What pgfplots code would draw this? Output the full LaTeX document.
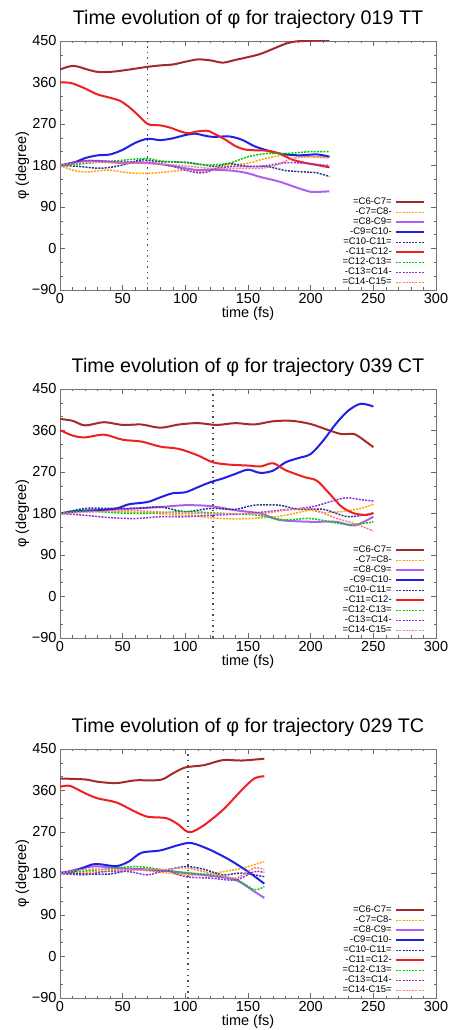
\documentclass[border=0pt]{standalone}
\usepackage{fontspec}
\setmainfont{Liberation Sans}
\usepackage{pgfplots}
\pgfplotsset{compat=1.18}
\definecolor{cBrown}{HTML}{A52A2A}
\definecolor{cOrange}{HTML}{FFA500}
\definecolor{cViolet}{HTML}{B060F0}
\definecolor{cBlue}{HTML}{2020E8}
\definecolor{cNavy}{HTML}{303090}
\definecolor{cRed}{HTML}{EE2020}
\definecolor{cGreen}{HTML}{00D000}
\definecolor{cPurple}{HTML}{9030E0}
\definecolor{cPink}{HTML}{F08080}
\pgfplotsset{
  panel/.style={
    scale only axis, width=376pt, height=249pt,
    xmin=0, xmax=300, ymin=-90, ymax=450,
    xtick={0,50,...,300}, ytick={-90,0,90,180,270,360,450},
    yticklabels={−90,0,90,180,270,360,450},
    minor x tick num=4, minor y tick num=2,
    tick align=inside, major tick length=5pt, minor tick length=2.5pt,
    tick style={black!60, line width=0.6pt},
    axis line style={black!55, line width=0.8pt},
    /pgf/number format/assume math mode=true,
    tick label style={font=\fontsize{14.5}{16}\selectfont},
    xlabel={time (fs)}, ylabel={φ (degree)},
    every axis x label/.style={at={(axis description cs:0.5,-0.097)}, anchor=center, font=\fontsize{14.5}{16}\selectfont},
    every axis y label/.style={at={(axis description cs:-0.1,0.5)}, rotate=90, anchor=center, font=\fontsize{14.5}{16}\selectfont},
    title style={font=\fontsize{19.7}{21}\selectfont, at={(axis description cs:0.5,1)}, anchor=center, yshift=16pt},
    legend style={draw=none, fill=none, at={(rel axis cs:0.972,0.01)}, anchor=south east,
      font=\fontsize{9.5}{10}\selectfont, inner sep=0pt, row sep=0pt, column sep=3pt,
      nodes={inner sep=0.6pt, text height=6.6pt, text depth=2.2pt}},
    legend plot pos=right, legend cell align=right,
    legend image code/.code={\draw[#1] (0pt,0pt) -- (28pt,0pt);},
  },
  sA/.style={cBrown, line width=2pt, smooth},
  sB/.style={cOrange, line width=1.5pt, dash pattern=on 2pt off 1.2pt, smooth},
  sC/.style={cViolet, line width=2pt, smooth},
  sD/.style={cBlue, line width=2pt, smooth},
  sE/.style={cNavy, line width=1.5pt, dash pattern=on 2pt off 1.2pt, smooth},
  sF/.style={cRed, line width=2pt, smooth},
  sG/.style={cGreen, line width=1.5pt, dash pattern=on 2pt off 1.2pt, smooth},
  sH/.style={cPurple, line width=1.5pt, dash pattern=on 2pt off 1.2pt, smooth},
  sI/.style={cPink, line width=1.5pt, dash pattern=on 2pt off 1.2pt, smooth},
  vline/.style={black!70, line width=1.5pt, dash pattern=on 1.5pt off 4pt, forget plot},
}
\begin{document}
\begin{tikzpicture}
\path[use as bounding box] (0,0) rectangle (452pt,1030pt);
% ---------------- Panel 1 ----------------
\begin{axis}[panel, at={(60pt,740pt)}, anchor=south west,
  title={Time evolution of φ for trajectory 019 TT}]
\addplot[vline] coordinates {(70,-90) (70,450)};
\addplot[sA] coordinates {(0,388) (5,393) (10,396) (15,394) (22,388) (30,383) (40,383) (50,386) (60,390) (70,394) (80,397) (90,399) (100,405) (110,410) (120,408) (130,403) (140,409) (150,415) (160,422) (170,433) (180,444) (188,449) (195,450) (205,451) (215,452)};
\addlegendentry{=C6-C7=}
\addplot[sB] coordinates {(0,180) (10,170) (20,166) (30,168) (40,170) (55,164) (70,163) (85,166) (100,170) (115,166) (130,178) (150,185) (165,196) (180,202) (200,199) (215,199)};
\addlegendentry{-C7=C8-}
\addplot[sC] coordinates {(0,180) (10,186) (20,190) (30,190) (40,188) (50,185) (60,186) (70,185) (80,183) (90,179) (100,174) (110,170) (120,171) (130,170) (140,168) (150,163) (160,155) (175,145) (190,131) (200,123) (208,123) (215,124)};
\addlegendentry{=C8-C9=}
\addplot[sD] coordinates {(0,180) (10,185) (20,196) (30,202) (40,204) (50,214) (60,229) (70,238) (80,235) (90,239) (100,246) (108,249) (115,245) (122,242) (135,243) (145,236) (155,222) (165,213) (175,206) (190,202) (205,204) (215,199)};
\addlegendentry{-C9=C10-}
\addplot[sE] coordinates {(0,180) (15,178) (30,174) (40,176) (50,181) (65,192) (80,188) (100,187) (115,181) (125,178) (135,184) (150,178) (165,178) (180,169) (195,166) (205,164) (215,156)};
\addlegendentry{=C10-C11=}
\addplot[sF] coordinates {(0,360) (5,360) (10,358) (20,347) (30,334) (40,327) (48,320) (55,307) (62,290) (68,274) (72,268) (80,267) (88,262) (95,255) (102,250) (110,254) (118,255) (125,246) (132,236) (140,222) (147,215) (155,213) (165,212) (175,206) (185,193) (195,186) (205,181) (215,176)};
\addlegendentry{-C11=C12-}
\addplot[sG] coordinates {(0,180) (15,183) (30,187) (45,190) (60,194) (70,195) (80,190) (90,188) (100,186) (110,183) (120,181) (135,185) (150,199) (165,206) (180,206) (200,210) (215,210)};
\addlegendentry{=C12-C13=}
\addplot[sH] coordinates {(0,180) (15,189) (30,190) (45,188) (70,187) (90,178) (100,170) (110,164) (118,166) (125,174) (140,178) (160,178) (180,186) (195,185) (210,181) (215,180)};
\addlegendentry{-C13=C14-}
\addplot[sI] coordinates {(0,180) (20,187) (50,185) (70,185) (100,179) (120,174) (140,174) (160,174) (172,180) (185,195) (200,199) (215,196)};
\addlegendentry{=C14-C15=}
\end{axis}
% ---------------- Panel 2 ----------------
\begin{axis}[panel, at={(60pt,392pt)}, anchor=south west,
  title={Time evolution of φ for trajectory 039 CT}]
\addplot[vline] coordinates {(122,-90) (122,450)};
\addplot[sA] coordinates {(0,385) (10,381) (20,371) (35,378) (50,372) (65,373) (80,366) (95,373) (110,376) (125,372) (140,376) (155,373) (170,380) (185,381) (200,374) (215,360) (225,352) (235,352) (245,334) (250,324)};
\addlegendentry{=C6-C7=}
\addplot[sB] coordinates {(0,180) (25,185) (50,184) (75,180) (100,176) (130,169) (150,169) (175,174) (190,182) (200,187) (210,182) (225,184) (240,191) (250,200)};
\addlegendentry{-C7=C8-}
\addplot[sC] coordinates {(0,180) (15,186) (30,187) (60,191) (80,194) (100,198) (120,196) (140,187) (160,180) (175,166) (200,162) (220,162) (235,154) (250,173)};
\addlegendentry{=C8-C9=}
\addplot[sD] coordinates {(0,180) (15,185) (30,187) (45,191) (55,200) (70,205) (80,215) (90,224) (100,226) (110,237) (120,248) (130,256) (140,266) (150,275) (160,268) (170,273) (180,291) (190,300) (200,309) (210,338) (220,374) (230,403) (240,418) (250,412)};
\addlegendentry{-C9=C10-}
\addplot[sE] coordinates {(0,180) (20,191) (40,191) (60,191) (80,194) (100,184) (120,191) (140,189) (155,198) (175,198) (190,189) (210,189) (230,173) (250,181)};
\addlegendentry{=C10-C11=}
\addplot[sF] coordinates {(0,361) (10,349) (20,345) (35,351) (50,340) (65,336) (80,325) (95,320) (110,306) (122,291) (135,286) (150,284) (160,282) (170,289) (180,274) (195,259) (205,251) (215,223) (225,194) (235,180) (245,177) (250,181)};
\addlegendentry{-C11=C12-}
\addplot[sG] coordinates {(0,180) (20,185) (60,180) (100,184) (130,180) (155,177) (180,166) (200,169) (230,156) (250,162)};
\addlegendentry{=C12-C13=}
\addplot[sH] coordinates {(0,180) (20,176) (40,171) (60,169) (80,173) (100,173) (120,176) (150,180) (175,187) (200,194) (215,205) (228,214) (240,210) (250,207)};
\addlegendentry{-C13=C14-}
\addplot[sI] coordinates {(0,180) (30,184) (60,186) (100,180) (130,180) (160,180) (180,187) (200,190) (220,170) (235,158) (250,142)};
\addlegendentry{=C14-C15=}
\end{axis}
% ---------------- Panel 3 ----------------
\begin{axis}[panel, at={(60pt,32pt)}, anchor=south west,
  title={Time evolution of φ for trajectory 029 TC}]
\addplot[vline] coordinates {(102,-90) (102,450)};
\addplot[sA] coordinates {(0,386) (20,384) (30,379) (45,376) (60,382) (80,383) (90,397) (100,410) (115,415) (130,426) (145,425) (163,429)};
\addlegendentry{=C6-C7=}
\addplot[sB] coordinates {(0,180) (30,184) (60,188) (100,177) (120,179) (130,184) (145,191) (163,206)};
\addlegendentry{-C7=C8-}
\addplot[sC] coordinates {(0,180) (25,195) (50,191) (75,188) (100,181) (120,175) (140,166) (155,141) (163,127)};
\addlegendentry{=C8-C9=}
\addplot[sD] coordinates {(0,182) (10,184) (25,199) (32,200) (45,196) (55,206) (65,225) (80,230) (95,242) (105,246) (120,231) (135,210) (150,184) (163,158)};
\addlegendentry{-C9=C10-}
\addplot[sE] coordinates {(0,180) (20,179) (40,179) (60,189) (80,186) (100,195) (115,189) (130,177) (145,181) (163,173)};
\addlegendentry{=C10-C11=}
\addplot[sF] coordinates {(0,368) (8,370) (20,354) (30,343) (45,334) (60,314) (70,303) (85,300) (95,285) (100,273) (105,270) (115,285) (130,318) (145,361) (155,386) (163,391)};
\addlegendentry{-C11=C12-}
\addplot[sG] coordinates {(0,180) (30,188) (60,195) (80,189) (100,182) (120,177) (140,168) (155,145) (163,152)};
\addlegendentry{=C12-C13=}
\addplot[sH] coordinates {(0,180) (20,177) (35,184) (55,184) (70,177) (85,186) (100,173) (120,170) (140,166) (155,184) (163,182)};
\addlegendentry{-C13=C14-}
\addplot[sI] coordinates {(0,180) (20,189) (50,188) (80,188) (100,192) (120,181) (140,170) (155,192) (163,188)};
\addlegendentry{=C14-C15=}
\end{axis}
\end{tikzpicture}
\end{document}
